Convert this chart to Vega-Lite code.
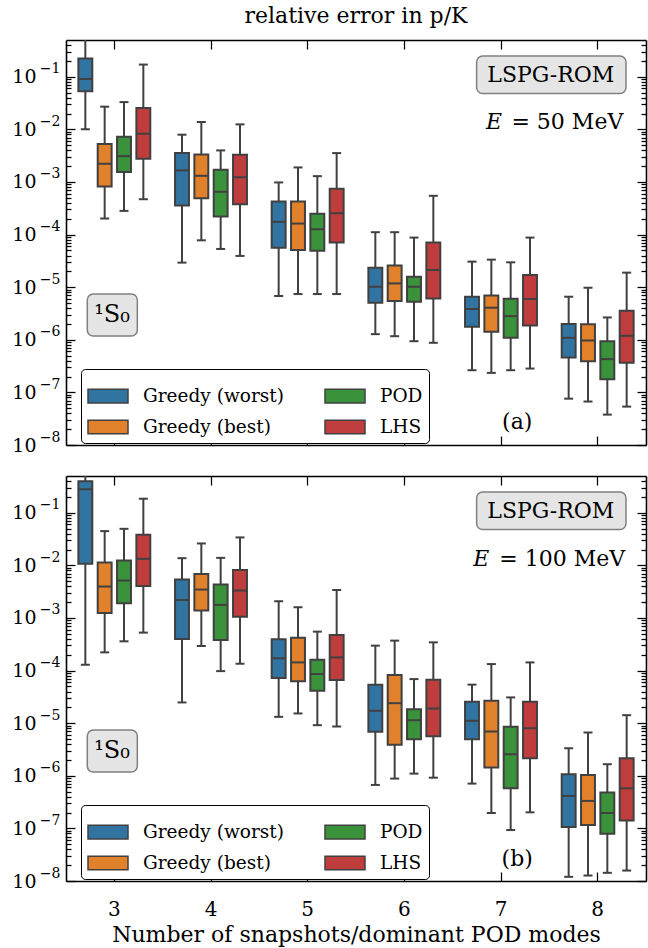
{
  "$schema": "https://vega.github.io/schema/vega-lite/v6.json",
  "padding": {"left": 8, "top": 5, "right": 2, "bottom": 2},
  "config": {
    "font": "DejaVu Serif",
    "view": {"stroke": null},
    "axis": {"grid": false, "domainColor": "black", "domainWidth": 1.6, "tickColor": "black", "tickWidth": 1.25, "labelFont": "DejaVu Serif", "labelColor": "black", "titleFont": "DejaVu Serif", "titleFontWeight": "normal", "titleColor": "black"}
  },
  "datasets": {
    "a": [
      {"n": 3, "method": "Greedy (worst)", "min": 0.0101, "q1": 0.053, "med": 0.0908, "q3": 0.222, "max": 1.0},
      {"n": 3, "method": "Greedy (best)", "min": 0.000202, "q1": 0.00082, "med": 0.00222, "q3": 0.00525, "max": 0.027},
      {"n": 3, "method": "POD", "min": 0.000282, "q1": 0.00154, "med": 0.0031, "q3": 0.00726, "max": 0.033},
      {"n": 3, "method": "LHS", "min": 0.00047, "q1": 0.00277, "med": 0.00828, "q3": 0.0255, "max": 0.1706},
      {"n": 4, "method": "Greedy (worst)", "min": 2.93e-5, "q1": 0.000356, "med": 0.00166, "q3": 0.00354, "max": 0.00792},
      {"n": 4, "method": "Greedy (best)", "min": 7.78e-5, "q1": 0.000492, "med": 0.00131, "q3": 0.00334, "max": 0.0138},
      {"n": 4, "method": "POD", "min": 5.33e-5, "q1": 0.00022, "med": 0.00065, "q3": 0.0017, "max": 0.00398},
      {"n": 4, "method": "LHS", "min": 3.93e-5, "q1": 0.000378, "med": 0.00123, "q3": 0.0033, "max": 0.01245},
      {"n": 5, "method": "Greedy (worst)", "min": 6.8e-6, "q1": 5.65e-5, "med": 0.000175, "q3": 0.000425, "max": 0.00098},
      {"n": 5, "method": "Greedy (best)", "min": 7.4e-6, "q1": 5.1e-5, "med": 0.000162, "q3": 0.000425, "max": 0.00189},
      {"n": 5, "method": "POD", "min": 7.4e-6, "q1": 4.95e-5, "med": 0.000126, "q3": 0.000248, "max": 0.00129},
      {"n": 5, "method": "LHS", "min": 7.4e-6, "q1": 7.05e-5, "med": 0.000255, "q3": 0.00074, "max": 0.00354},
      {"n": 6, "method": "Greedy (worst)", "min": 1.28e-6, "q1": 5.07e-6, "med": 1.02e-5, "q3": 2.35e-5, "max": 0.000111},
      {"n": 6, "method": "Greedy (best)", "min": 1.17e-6, "q1": 5.46e-6, "med": 1.18e-5, "q3": 2.57e-5, "max": 0.000111},
      {"n": 6, "method": "POD", "min": 9.4e-7, "q1": 5.3e-6, "med": 1.02e-5, "q3": 1.58e-5, "max": 8.77e-5},
      {"n": 6, "method": "LHS", "min": 8.77e-7, "q1": 6.12e-6, "med": 2.12e-5, "q3": 7.05e-5, "max": 0.000546},
      {"n": 7, "method": "Greedy (worst)", "min": 2.64e-7, "q1": 1.77e-6, "med": 3.85e-6, "q3": 6.59e-6, "max": 3.06e-5},
      {"n": 7, "method": "Greedy (best)", "min": 2.35e-7, "q1": 1.42e-6, "med": 4.07e-6, "q3": 6.98e-6, "max": 3.34e-5},
      {"n": 7, "method": "POD", "min": 2.64e-7, "q1": 1.09e-6, "med": 2.82e-6, "q3": 6.04e-6, "max": 2.97e-5},
      {"n": 7, "method": "LHS", "min": 2.84e-7, "q1": 1.87e-6, "med": 5.96e-6, "q3": 1.71e-5, "max": 8.77e-5},
      {"n": 8, "method": "Greedy (worst)", "min": 7.6e-8, "q1": 4.6e-7, "med": 1.09e-6, "q3": 1.99e-6, "max": 6.59e-6},
      {"n": 8, "method": "Greedy (best)", "min": 6.7e-8, "q1": 3.93e-7, "med": 9.7e-7, "q3": 1.97e-6, "max": 9.77e-6},
      {"n": 8, "method": "POD", "min": 3.78e-8, "q1": 1.78e-7, "med": 4.29e-7, "q3": 9.4e-7, "max": 2.66e-6},
      {"n": 8, "method": "LHS", "min": 5.37e-8, "q1": 3.65e-7, "med": 1.19e-6, "q3": 3.56e-6, "max": 1.89e-5}
    ],
    "b": [
      {"n": 3, "method": "Greedy (worst)", "min": 0.000129, "q1": 0.0107, "med": 0.279, "q3": 0.396, "max": 1.0},
      {"n": 3, "method": "Greedy (best)", "min": 0.000222, "q1": 0.00124, "med": 0.00396, "q3": 0.01135, "max": 0.0448},
      {"n": 3, "method": "POD", "min": 0.00036, "q1": 0.0019, "med": 0.00515, "q3": 0.0124, "max": 0.0495},
      {"n": 3, "method": "LHS", "min": 0.000527, "q1": 0.00407, "med": 0.0133, "q3": 0.0381, "max": 0.185},
      {"n": 4, "method": "Greedy (worst)", "min": 2.48e-5, "q1": 0.000398, "med": 0.0022, "q3": 0.00538, "max": 0.0137},
      {"n": 4, "method": "Greedy (best)", "min": 0.000293, "q1": 0.00138, "med": 0.00347, "q3": 0.00689, "max": 0.0261},
      {"n": 4, "method": "POD", "min": 9.77e-5, "q1": 0.000381, "med": 0.00177, "q3": 0.00432, "max": 0.0139},
      {"n": 4, "method": "LHS", "min": 0.000135, "q1": 0.00106, "med": 0.00333, "q3": 0.0082, "max": 0.034},
      {"n": 5, "method": "Greedy (worst)", "min": 1.32e-5, "q1": 7.2e-5, "med": 0.000171, "q3": 0.000393, "max": 0.00208},
      {"n": 5, "method": "Greedy (best)", "min": 1.53e-5, "q1": 6.3e-5, "med": 0.000143, "q3": 0.000423, "max": 0.0016},
      {"n": 5, "method": "POD", "min": 9.16e-6, "q1": 4.14e-5, "med": 8.57e-5, "q3": 0.000161, "max": 0.00055},
      {"n": 5, "method": "LHS", "min": 8.65e-6, "q1": 6.6e-5, "med": 0.000178, "q3": 0.000474, "max": 0.0034},
      {"n": 6, "method": "Greedy (worst)", "min": 6.7e-7, "q1": 6.86e-6, "med": 1.72e-5, "q3": 5.38e-5, "max": 0.000298},
      {"n": 6, "method": "Greedy (best)", "min": 8.85e-7, "q1": 3.88e-6, "med": 2.4e-5, "q3": 8.2e-5, "max": 0.000371},
      {"n": 6, "method": "POD", "min": 1.1e-6, "q1": 4.95e-6, "med": 1.14e-5, "q3": 1.85e-5, "max": 6.89e-5},
      {"n": 6, "method": "LHS", "min": 9.2e-7, "q1": 5.65e-6, "med": 1.9e-5, "q3": 6.7e-5, "max": 0.000344},
      {"n": 7, "method": "Greedy (worst)", "min": 7.1e-7, "q1": 4.95e-6, "med": 1.11e-5, "q3": 2.56e-5, "max": 5.4e-5},
      {"n": 7, "method": "Greedy (best)", "min": 1.96e-7, "q1": 1.43e-6, "med": 6.95e-6, "q3": 2.67e-5, "max": 0.000133},
      {"n": 7, "method": "POD", "min": 9.3e-8, "q1": 5.78e-7, "med": 2.57e-6, "q3": 8.53e-6, "max": 3.09e-5},
      {"n": 7, "method": "LHS", "min": 2.02e-7, "q1": 2.15e-6, "med": 8.04e-6, "q3": 2.56e-5, "max": 0.000143},
      {"n": 8, "method": "Greedy (worst)", "min": 1.2e-8, "q1": 1.06e-7, "med": 4.14e-7, "q3": 1.07e-6, "max": 3.34e-6},
      {"n": 8, "method": "Greedy (best)", "min": 1.27e-8, "q1": 1.16e-7, "med": 3.33e-7, "q3": 1.04e-6, "max": 6.65e-6},
      {"n": 8, "method": "POD", "min": 1.43e-8, "q1": 7.9e-8, "med": 1.96e-7, "q3": 4.79e-7, "max": 1.66e-6},
      {"n": 8, "method": "LHS", "min": 1.58e-8, "q1": 1.42e-7, "med": 5.78e-7, "q3": 2.15e-6, "max": 1.42e-5}
    ]
  },
  "spacing": 17,
  "resolve": {"scale": {"fill": "independent"}, "legend": {"fill": "independent"}},
  "vconcat": [
    {
      "width": 580, "height": 405,
      "data": {"name": "a"},
      "title": {"text": "relative error in p/K", "font": "DejaVu Serif", "fontSize": 22, "fontWeight": "normal", "anchor": "middle", "frame": "group", "offset": 8, "color": "black"},
      "resolve": {"scale": {"x": "independent", "y": "independent"}},
      "layer": [
        {
          "mark": {"type": "rule", "color": "#404040", "strokeWidth": 2, "clip": true},
          "encoding": {
            "x": {"field": "n", "type": "ordinal", "scale": {"type": "band", "domain": [3, 4, 5, 6, 7, 8], "paddingInner": 0, "paddingOuter": 0}, "axis": null},
            "xOffset": {"field": "method", "type": "nominal", "scale": {"type": "band", "domain": ["Greedy (worst)", "Greedy (best)", "POD", "LHS"], "paddingInner": 0.28, "paddingOuter": 0.64}},
            "y": {"field": "min", "type": "quantitative", "scale": {"type": "log", "domain": [1e-8, 0.5], "nice": false},
              "axis": {"orient": "left", "title": null, "values": [1e-8,2e-8,3e-8,4e-8,5e-8,6e-8,7e-8,8e-8,9e-8,1e-7,2e-7,3e-7,4e-7,5e-7,6e-7,7e-7,8e-7,9e-7,1e-6,2e-6,3e-6,4e-6,5e-6,6e-6,7e-6,8e-6,9e-6,1e-5,2e-5,3e-5,4e-5,5e-5,6e-5,7e-5,8e-5,9e-5,0.0001,0.0002,0.0003,0.0004,0.0005,0.0006,0.0007,0.0008,0.0009,0.001,0.002,0.003,0.004,0.005,0.006,0.007,0.008,0.009,0.01,0.02,0.03,0.04,0.05,0.06,0.07,0.08,0.09,0.1,0.2,0.3,0.4],
                "labelExpr": "abs(log(datum.value)/LN10 - round(log(datum.value)/LN10)) < 0.01 ? '10' : ''",
                "tickSize": {"condition": {"test": "abs(log(datum.value)/LN10 - round(log(datum.value)/LN10)) < 0.01", "value": -9}, "value": -5},
                "labelFontSize": 19, "labelPadding": 39, "labelOverlap": false, "labelBound": false, "labelFlush": false, "minExtent": 58, "maxExtent": 58}},
            "y2": {"field": "max"}
          }
        },
        {
          "transform": [{"fold": ["min", "max"], "as": ["stat", "v"]}],
          "mark": {"type": "tick", "color": "#404040", "size": 9, "thickness": 2, "clip": true, "opacity": 1},
          "encoding": {
            "x": {"field": "n", "type": "ordinal", "scale": {"type": "band", "domain": [3, 4, 5, 6, 7, 8], "paddingInner": 0, "paddingOuter": 0}, "axis": null},
            "xOffset": {"field": "method", "type": "nominal", "scale": {"type": "band", "domain": ["Greedy (worst)", "Greedy (best)", "POD", "LHS"], "paddingInner": 0.28, "paddingOuter": 0.64}},
            "y": {"field": "v", "type": "quantitative", "scale": {"type": "log", "domain": [1e-8, 0.5], "nice": false},
              "axis": {"orient": "right", "title": null, "labels": false, "values": [1e-8,2e-8,3e-8,4e-8,5e-8,6e-8,7e-8,8e-8,9e-8,1e-7,2e-7,3e-7,4e-7,5e-7,6e-7,7e-7,8e-7,9e-7,1e-6,2e-6,3e-6,4e-6,5e-6,6e-6,7e-6,8e-6,9e-6,1e-5,2e-5,3e-5,4e-5,5e-5,6e-5,7e-5,8e-5,9e-5,0.0001,0.0002,0.0003,0.0004,0.0005,0.0006,0.0007,0.0008,0.0009,0.001,0.002,0.003,0.004,0.005,0.006,0.007,0.008,0.009,0.01,0.02,0.03,0.04,0.05,0.06,0.07,0.08,0.09,0.1,0.2,0.3,0.4],
                "tickSize": {"condition": {"test": "abs(log(datum.value)/LN10 - round(log(datum.value)/LN10)) < 0.01", "value": -9}, "value": -5},
                "minExtent": 0, "maxExtent": 0}}
          }
        },
        {
          "mark": {"type": "bar", "stroke": "#404040", "strokeWidth": 2, "opacity": 1},
          "encoding": {
            "x": {"field": "n", "type": "ordinal", "scale": {"type": "band", "domain": [3, 4, 5, 6, 7, 8], "paddingInner": 0, "paddingOuter": 0},
              "axis": {"orient": "bottom", "title": null, "labels": false, "tickSize": -9, "minExtent": 0, "maxExtent": 0}},
            "xOffset": {"field": "method", "type": "nominal", "scale": {"type": "band", "domain": ["Greedy (worst)", "Greedy (best)", "POD", "LHS"], "paddingInner": 0.28, "paddingOuter": 0.64}},
            "y": {"field": "q1", "type": "quantitative", "scale": {"type": "log", "domain": [1e-8, 0.5], "nice": false}, "axis": null},
            "y2": {"field": "q3"},
            "fill": {"field": "method", "type": "nominal",
              "scale": {"domain": ["Greedy (worst)", "Greedy (best)", "POD", "LHS"], "range": ["#3274a1", "#e1812c", "#3a923a", "#c03d3e"]},
              "legend": {"orient": "none", "legendX": 15, "legendY": 329, "title": null, "columns": 2, "symbolType": "M-1,-0.34H1V0.34H-1Z", "symbolSize": 1600, "symbolStrokeColor": "#404040", "symbolStrokeWidth": 1.5, "symbolOpacity": 1, "labelFont": "DejaVu Serif", "labelFontSize": 18.5, "labelColor": "black", "labelOffset": 14, "columnPadding": 38, "rowPadding": -4, "padding": 6, "strokeColor": "black", "cornerRadius": 4, "fillColor": "white", "labelLimit": 300}}
          }
        },
        {
          "mark": {"type": "tick", "color": "#404040", "size": 14, "thickness": 2, "opacity": 1},
          "encoding": {
            "x": {"field": "n", "type": "ordinal", "scale": {"type": "band", "domain": [3, 4, 5, 6, 7, 8], "paddingInner": 0, "paddingOuter": 0},
              "axis": {"orient": "top", "title": null, "labels": false, "tickSize": -9, "minExtent": 0, "maxExtent": 0}},
            "xOffset": {"field": "method", "type": "nominal", "scale": {"type": "band", "domain": ["Greedy (worst)", "Greedy (best)", "POD", "LHS"], "paddingInner": 0.28, "paddingOuter": 0.64}},
            "y": {"field": "med", "type": "quantitative", "scale": {"type": "log", "domain": [1e-8, 0.5], "nice": false},
              "axis": {"orient": "left", "title": null, "domain": false, "ticks": false, "values": [1e-8,1e-7,1e-6,1e-5,0.0001,0.001,0.01,0.1],
                "labelExpr": "'−' + (-round(log(datum.value)/LN10))",
                "labelFontSize": 14, "labelPadding": 6, "labelOffset": -8, "labelOverlap": false, "labelBound": false, "labelFlush": false, "minExtent": 58, "maxExtent": 58}}
          }
        },
        {
          "data": {"values": [{}]},
          "mark": {"type": "rect", "fill": "#e5e5e5", "stroke": "#808080", "strokeWidth": 1.5, "cornerRadius": 6},
          "encoding": {
            "x": {"datum": 0.708, "type": "quantitative", "scale": {"domain": [0, 1]}, "axis": null}, "x2": {"datum": 0.9655},
            "y": {"datum": 0.9605, "type": "quantitative", "scale": {"domain": [0, 1]}, "axis": null}, "y2": {"datum": 0.868}
          }
        },
        {
          "data": {"values": [{}]},
          "mark": {"type": "text", "text": "LSPG-ROM", "font": "DejaVu Serif", "fontSize": 22, "align": "center", "baseline": "middle", "color": "black"},
          "encoding": {
            "x": {"datum": 0.836, "type": "quantitative", "scale": {"domain": [0, 1]}, "axis": null},
            "y": {"datum": 0.914, "type": "quantitative", "scale": {"domain": [0, 1]}, "axis": null}
          }
        },
        {
          "data": {"values": [{}]},
          "mark": {"type": "text", "text": "E", "font": "DejaVu Serif", "fontStyle": "italic", "fontSize": 22, "align": "left", "baseline": "middle", "color": "black"},
          "encoding": {
            "x": {"datum": 0.724, "type": "quantitative", "scale": {"domain": [0, 1]}, "axis": null},
            "y": {"datum": 0.798, "type": "quantitative", "scale": {"domain": [0, 1]}, "axis": null}
          }
        },
        {
          "data": {"values": [{}]},
          "mark": {"type": "text", "text": "= 50 MeV", "font": "DejaVu Serif", "fontSize": 22, "align": "left", "baseline": "middle", "color": "black"},
          "encoding": {
            "x": {"datum": 0.768, "type": "quantitative", "scale": {"domain": [0, 1]}, "axis": null},
            "y": {"datum": 0.798, "type": "quantitative", "scale": {"domain": [0, 1]}, "axis": null}
          }
        },
        {
          "data": {"values": [{}]},
          "mark": {"type": "rect", "fill": "#e5e5e5", "stroke": "#808080", "strokeWidth": 1.5, "cornerRadius": 6},
          "encoding": {
            "x": {"datum": 0.0367, "type": "quantitative", "scale": {"domain": [0, 1]}, "axis": null}, "x2": {"datum": 0.123},
            "y": {"datum": 0.373, "type": "quantitative", "scale": {"domain": [0, 1]}, "axis": null}, "y2": {"datum": 0.269}
          }
        },
        {
          "data": {"values": [{}]},
          "mark": {"type": "text", "text": "¹S₀", "font": "DejaVu Serif", "fontSize": 24, "align": "center", "baseline": "middle", "color": "black"},
          "encoding": {
            "x": {"datum": 0.0793, "type": "quantitative", "scale": {"domain": [0, 1]}, "axis": null},
            "y": {"datum": 0.322, "type": "quantitative", "scale": {"domain": [0, 1]}, "axis": null}
          }
        },
        {
          "data": {"values": [{}]},
          "mark": {"type": "text", "text": "(a)", "font": "DejaVu Serif", "fontSize": 22, "align": "center", "baseline": "middle", "color": "black"},
          "encoding": {
            "x": {"datum": 0.778, "type": "quantitative", "scale": {"domain": [0, 1]}, "axis": null},
            "y": {"datum": 0.0575, "type": "quantitative", "scale": {"domain": [0, 1]}, "axis": null}
          }
        }
      ]
    },
    {
      "width": 580, "height": 405,
      "data": {"name": "b"},
      "resolve": {"scale": {"x": "independent", "y": "independent"}},
      "layer": [
        {
          "mark": {"type": "rule", "color": "#404040", "strokeWidth": 2, "clip": true},
          "encoding": {
            "x": {"field": "n", "type": "ordinal", "scale": {"type": "band", "domain": [3, 4, 5, 6, 7, 8], "paddingInner": 0, "paddingOuter": 0}, "axis": null},
            "xOffset": {"field": "method", "type": "nominal", "scale": {"type": "band", "domain": ["Greedy (worst)", "Greedy (best)", "POD", "LHS"], "paddingInner": 0.28, "paddingOuter": 0.64}},
            "y": {"field": "min", "type": "quantitative", "scale": {"type": "log", "domain": [1e-8, 0.5], "nice": false},
              "axis": {"orient": "left", "title": null, "values": [1e-8,2e-8,3e-8,4e-8,5e-8,6e-8,7e-8,8e-8,9e-8,1e-7,2e-7,3e-7,4e-7,5e-7,6e-7,7e-7,8e-7,9e-7,1e-6,2e-6,3e-6,4e-6,5e-6,6e-6,7e-6,8e-6,9e-6,1e-5,2e-5,3e-5,4e-5,5e-5,6e-5,7e-5,8e-5,9e-5,0.0001,0.0002,0.0003,0.0004,0.0005,0.0006,0.0007,0.0008,0.0009,0.001,0.002,0.003,0.004,0.005,0.006,0.007,0.008,0.009,0.01,0.02,0.03,0.04,0.05,0.06,0.07,0.08,0.09,0.1,0.2,0.3,0.4],
                "labelExpr": "abs(log(datum.value)/LN10 - round(log(datum.value)/LN10)) < 0.01 ? '10' : ''",
                "tickSize": {"condition": {"test": "abs(log(datum.value)/LN10 - round(log(datum.value)/LN10)) < 0.01", "value": -9}, "value": -5},
                "labelFontSize": 19, "labelPadding": 39, "labelOverlap": false, "labelBound": false, "labelFlush": false, "minExtent": 58, "maxExtent": 58}},
            "y2": {"field": "max"}
          }
        },
        {
          "transform": [{"fold": ["min", "max"], "as": ["stat", "v"]}],
          "mark": {"type": "tick", "color": "#404040", "size": 9, "thickness": 2, "clip": true, "opacity": 1},
          "encoding": {
            "x": {"field": "n", "type": "ordinal", "scale": {"type": "band", "domain": [3, 4, 5, 6, 7, 8], "paddingInner": 0, "paddingOuter": 0}, "axis": null},
            "xOffset": {"field": "method", "type": "nominal", "scale": {"type": "band", "domain": ["Greedy (worst)", "Greedy (best)", "POD", "LHS"], "paddingInner": 0.28, "paddingOuter": 0.64}},
            "y": {"field": "v", "type": "quantitative", "scale": {"type": "log", "domain": [1e-8, 0.5], "nice": false},
              "axis": {"orient": "right", "title": null, "labels": false, "values": [1e-8,2e-8,3e-8,4e-8,5e-8,6e-8,7e-8,8e-8,9e-8,1e-7,2e-7,3e-7,4e-7,5e-7,6e-7,7e-7,8e-7,9e-7,1e-6,2e-6,3e-6,4e-6,5e-6,6e-6,7e-6,8e-6,9e-6,1e-5,2e-5,3e-5,4e-5,5e-5,6e-5,7e-5,8e-5,9e-5,0.0001,0.0002,0.0003,0.0004,0.0005,0.0006,0.0007,0.0008,0.0009,0.001,0.002,0.003,0.004,0.005,0.006,0.007,0.008,0.009,0.01,0.02,0.03,0.04,0.05,0.06,0.07,0.08,0.09,0.1,0.2,0.3,0.4],
                "tickSize": {"condition": {"test": "abs(log(datum.value)/LN10 - round(log(datum.value)/LN10)) < 0.01", "value": -9}, "value": -5},
                "minExtent": 0, "maxExtent": 0}}
          }
        },
        {
          "mark": {"type": "bar", "stroke": "#404040", "strokeWidth": 2, "opacity": 1},
          "encoding": {
            "x": {"field": "n", "type": "ordinal", "scale": {"type": "band", "domain": [3, 4, 5, 6, 7, 8], "paddingInner": 0, "paddingOuter": 0},
              "axis": {"orient": "bottom", "title": "Number of snapshots/dominant POD modes", "titleFontSize": 22, "titlePadding": 5, "labelFontSize": 20, "labelAngle": 0, "labelPadding": 27, "tickSize": -9}},
            "xOffset": {"field": "method", "type": "nominal", "scale": {"type": "band", "domain": ["Greedy (worst)", "Greedy (best)", "POD", "LHS"], "paddingInner": 0.28, "paddingOuter": 0.64}},
            "y": {"field": "q1", "type": "quantitative", "scale": {"type": "log", "domain": [1e-8, 0.5], "nice": false}, "axis": null},
            "y2": {"field": "q3"},
            "fill": {"field": "method", "type": "nominal",
              "scale": {"domain": ["Greedy (worst)", "Greedy (best)", "POD", "LHS"], "range": ["#3274a1", "#e1812c", "#3a923a", "#c03d3e"]},
              "legend": {"orient": "none", "legendX": 15, "legendY": 329, "title": null, "columns": 2, "symbolType": "M-1,-0.34H1V0.34H-1Z", "symbolSize": 1600, "symbolStrokeColor": "#404040", "symbolStrokeWidth": 1.5, "symbolOpacity": 1, "labelFont": "DejaVu Serif", "labelFontSize": 18.5, "labelColor": "black", "labelOffset": 14, "columnPadding": 38, "rowPadding": -4, "padding": 6, "strokeColor": "black", "cornerRadius": 4, "fillColor": "white", "labelLimit": 300}}
          }
        },
        {
          "mark": {"type": "tick", "color": "#404040", "size": 14, "thickness": 2, "opacity": 1},
          "encoding": {
            "x": {"field": "n", "type": "ordinal", "scale": {"type": "band", "domain": [3, 4, 5, 6, 7, 8], "paddingInner": 0, "paddingOuter": 0},
              "axis": {"orient": "top", "title": null, "labels": false, "tickSize": -9, "minExtent": 0, "maxExtent": 0}},
            "xOffset": {"field": "method", "type": "nominal", "scale": {"type": "band", "domain": ["Greedy (worst)", "Greedy (best)", "POD", "LHS"], "paddingInner": 0.28, "paddingOuter": 0.64}},
            "y": {"field": "med", "type": "quantitative", "scale": {"type": "log", "domain": [1e-8, 0.5], "nice": false},
              "axis": {"orient": "left", "title": null, "domain": false, "ticks": false, "values": [1e-8,1e-7,1e-6,1e-5,0.0001,0.001,0.01,0.1],
                "labelExpr": "'−' + (-round(log(datum.value)/LN10))",
                "labelFontSize": 14, "labelPadding": 6, "labelOffset": -8, "labelOverlap": false, "labelBound": false, "labelFlush": false, "minExtent": 58, "maxExtent": 58}}
          }
        },
        {
          "data": {"values": [{}]},
          "mark": {"type": "rect", "fill": "#e5e5e5", "stroke": "#808080", "strokeWidth": 1.5, "cornerRadius": 6},
          "encoding": {
            "x": {"datum": 0.708, "type": "quantitative", "scale": {"domain": [0, 1]}, "axis": null}, "x2": {"datum": 0.9655},
            "y": {"datum": 0.9605, "type": "quantitative", "scale": {"domain": [0, 1]}, "axis": null}, "y2": {"datum": 0.868}
          }
        },
        {
          "data": {"values": [{}]},
          "mark": {"type": "text", "text": "LSPG-ROM", "font": "DejaVu Serif", "fontSize": 22, "align": "center", "baseline": "middle", "color": "black"},
          "encoding": {
            "x": {"datum": 0.836, "type": "quantitative", "scale": {"domain": [0, 1]}, "axis": null},
            "y": {"datum": 0.914, "type": "quantitative", "scale": {"domain": [0, 1]}, "axis": null}
          }
        },
        {
          "data": {"values": [{}]},
          "mark": {"type": "text", "text": "E", "font": "DejaVu Serif", "fontStyle": "italic", "fontSize": 22, "align": "left", "baseline": "middle", "color": "black"},
          "encoding": {
            "x": {"datum": 0.702, "type": "quantitative", "scale": {"domain": [0, 1]}, "axis": null},
            "y": {"datum": 0.796, "type": "quantitative", "scale": {"domain": [0, 1]}, "axis": null}
          }
        },
        {
          "data": {"values": [{}]},
          "mark": {"type": "text", "text": "= 100 MeV", "font": "DejaVu Serif", "fontSize": 22, "align": "left", "baseline": "middle", "color": "black"},
          "encoding": {
            "x": {"datum": 0.747, "type": "quantitative", "scale": {"domain": [0, 1]}, "axis": null},
            "y": {"datum": 0.796, "type": "quantitative", "scale": {"domain": [0, 1]}, "axis": null}
          }
        },
        {
          "data": {"values": [{}]},
          "mark": {"type": "rect", "fill": "#e5e5e5", "stroke": "#808080", "strokeWidth": 1.5, "cornerRadius": 6},
          "encoding": {
            "x": {"datum": 0.0367, "type": "quantitative", "scale": {"domain": [0, 1]}, "axis": null}, "x2": {"datum": 0.123},
            "y": {"datum": 0.373, "type": "quantitative", "scale": {"domain": [0, 1]}, "axis": null}, "y2": {"datum": 0.269}
          }
        },
        {
          "data": {"values": [{}]},
          "mark": {"type": "text", "text": "¹S₀", "font": "DejaVu Serif", "fontSize": 24, "align": "center", "baseline": "middle", "color": "black"},
          "encoding": {
            "x": {"datum": 0.0793, "type": "quantitative", "scale": {"domain": [0, 1]}, "axis": null},
            "y": {"datum": 0.322, "type": "quantitative", "scale": {"domain": [0, 1]}, "axis": null}
          }
        },
        {
          "data": {"values": [{}]},
          "mark": {"type": "text", "text": "(b)", "font": "DejaVu Serif", "fontSize": 22, "align": "center", "baseline": "middle", "color": "black"},
          "encoding": {
            "x": {"datum": 0.778, "type": "quantitative", "scale": {"domain": [0, 1]}, "axis": null},
            "y": {"datum": 0.055, "type": "quantitative", "scale": {"domain": [0, 1]}, "axis": null}
          }
        }
      ]
    }
  ]
}
